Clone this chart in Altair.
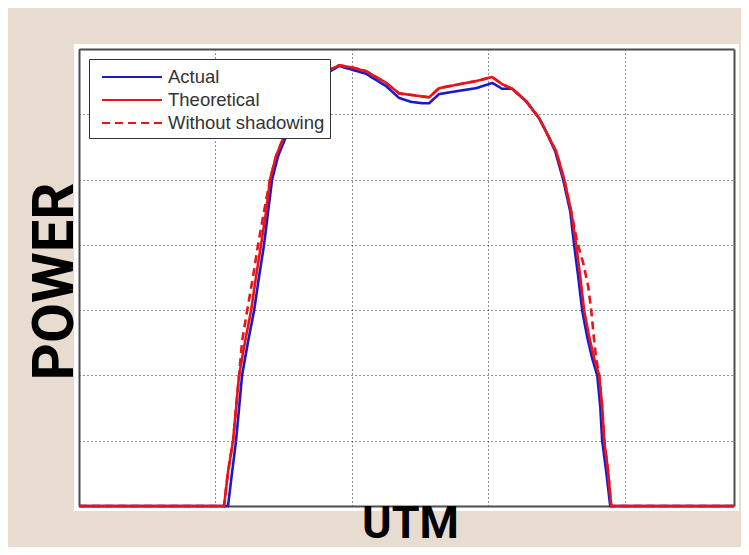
import altair as alt
import pandas as pd

series_names = ["Actual", "Theoretical", "Without shadowing"]
series_colors = ["#1a1acc", "#e8141c", "#e8141c"]

# Actual (blue)
actual_x = [0, 1.092, 1.122, 1.151, 1.195, 1.239, 1.283, 1.320, 1.356, 1.386, 1.415,
            1.459, 1.525, 1.613, 1.723, 1.818, 1.906, 1.957, 2.104, 2.251, 2.346,
            2.434, 2.515, 2.566, 2.639, 2.786, 2.911, 3.028, 3.101, 3.175, 3.277,
            3.372, 3.431, 3.490, 3.548, 3.600, 3.629, 3.658, 3.688, 3.724, 3.761,
            3.798, 3.820, 3.834, 3.864, 3.893, 4.8]
actual_y = [0, 0, 0.52, 1.0, 2.0, 2.52, 2.99, 3.52, 4.0, 4.51, 5.0,
            5.36, 5.70, 6.05, 6.39, 6.63, 6.74, 6.71, 6.62, 6.43, 6.25,
            6.19, 6.17, 6.17, 6.31, 6.36, 6.40, 6.48, 6.39, 6.39, 6.20,
            5.94, 5.70, 5.43, 5.00, 4.51, 3.99, 3.52, 2.99, 2.59, 2.26,
            2.0, 1.52, 1.0, 0.52, 0, 0]

# Theoretical (red solid)
theo_x = [0, 1.063, 1.092, 1.129, 1.173, 1.217, 1.261, 1.298, 1.334, 1.371, 1.400,
          1.444, 1.510, 1.598, 1.708, 1.804, 1.906, 1.994, 2.104, 2.251, 2.346,
          2.493, 2.566, 2.639, 2.786, 2.911, 3.028, 3.101, 3.175, 3.277, 3.372,
          3.431, 3.497, 3.556, 3.607, 3.644, 3.673, 3.702, 3.739, 3.776, 3.812,
          3.834, 3.849, 3.878, 3.900, 4.8]
theo_y = [0, 0, 0.52, 1.0, 2.0, 2.52, 2.99, 3.52, 4.0, 4.51, 5.0,
          5.36, 5.70, 6.05, 6.39, 6.65, 6.75, 6.72, 6.66, 6.48, 6.32,
          6.28, 6.26, 6.40, 6.46, 6.51, 6.57, 6.46, 6.39, 6.20, 5.94,
          5.70, 5.43, 5.00, 4.51, 3.99, 3.52, 2.99, 2.59, 2.26, 2.0,
          1.52, 1.0, 0.52, 0, 0]

# Without shadowing (red dashed)
noshade_x = [0, 1.063, 1.092, 1.129, 1.173, 1.195, 1.232, 1.276, 1.312, 1.356, 1.400,
             1.444, 1.510, 1.598, 1.708, 1.804, 1.906, 1.994, 2.104, 2.251, 2.346,
             2.493, 2.566, 2.639, 2.786, 2.911, 3.028, 3.101, 3.175, 3.277, 3.372,
             3.431, 3.497, 3.556, 3.607, 3.650, 3.695, 3.732, 3.754, 3.776, 3.790,
             3.812, 3.834, 3.849, 3.878, 3.900, 4.8]
noshade_y = [0, 0, 0.52, 1.0, 2.0, 2.52, 2.99, 3.52, 4.0, 4.51, 5.0,
             5.36, 5.70, 6.05, 6.39, 6.65, 6.75, 6.72, 6.66, 6.48, 6.32,
             6.28, 6.26, 6.40, 6.46, 6.51, 6.57, 6.46, 6.39, 6.20, 5.94,
             5.70, 5.43, 5.00, 4.51, 4.05, 3.72, 3.36, 2.99, 2.52, 2.26,
             2.0, 1.52, 1.0, 0.52, 0, 0]

x_ticks = [0, 1, 2, 3, 4]
y_ticks = [0, 1, 2, 3, 4, 5, 6, 7]

rows = []
for name, xs, ys in [("Actual", actual_x, actual_y),
                     ("Theoretical", theo_x, theo_y),
                     ("Without shadowing", noshade_x, noshade_y)]:
    for i, (a, b) in enumerate(zip(xs, ys)):
        rows.append({"series": name, "x": a, "y": b, "order": i})
df = pd.DataFrame(rows)

legend = alt.Legend(
    title=None, orient="none", legendX=10, legendY=10,
    symbolType="M-2.5,0H2.5", symbolSize=576, symbolStrokeWidth=2,
    labelFont="Liberation Sans", labelFontSize=18.5, labelColor="#333333",
    labelOffset=23, padding=5, symbolOffset=25, rowPadding=0,
    strokeColor="#333333", fillColor="white",
)

xscale = alt.Scale(domain=[0, 4.8], nice=False, zero=False)
yscale = alt.Scale(domain=[0, 7], nice=False, zero=False)

grid_kw = dict(labels=False, ticks=False, domainColor="#4d4d4d", domainWidth=2,
               grid=True, gridColor="#222222", gridDash=[1, 3], gridWidth=1)

lines = alt.Chart(df).mark_line(strokeWidth=2.6).encode(
    x=alt.X("x:Q", scale=xscale,
            axis=alt.Axis(values=x_ticks, title="UTM", titleFont="Roboto",
                          titleFontSize=45, titleFontWeight="bold", titleColor="black",
                          titleX=331, titleY=31, titleBaseline="alphabetic",
                          titleAlign="center", **grid_kw)),
    y=alt.Y("y:Q", scale=yscale,
            axis=alt.Axis(values=y_ticks, title="POWER", titleFont="Roboto",
                          titleFontSize=58, titleFontWeight="bold", titleColor="black",
                          titleAngle=270, titleX=-7, titleY=232,
                          titleBaseline="alphabetic", titleAlign="center", **grid_kw)),
    color=alt.Color("series:N", scale=alt.Scale(domain=series_names, range=series_colors),
                    legend=legend),
    strokeDash=alt.StrokeDash("series:N",
                              scale=alt.Scale(domain=series_names,
                                              range=[[1, 0], [1, 0], [8, 5]]),
                              legend=legend),
    order="order:Q",
)

box_kw = dict(labels=False, ticks=False, grid=False, title=None,
              domainColor="#4d4d4d", domainWidth=2)
box = alt.Chart(df).mark_line(opacity=0).encode(
    x=alt.X("x:Q", axis=alt.Axis(orient="top", **box_kw)),
    y=alt.Y("y:Q", axis=alt.Axis(orient="right", **box_kw)),
    detail="series:N",
)

chart = alt.layer(lines, box).resolve_axis(x="independent", y="independent").properties(
    width=655, height=457,
    background="#e8dcd0",
    padding={"left": 71, "top": 41, "right": 7, "bottom": 41},
    autosize=alt.AutoSizeParams(type="none"),
).configure_view(fill="white", stroke="white", strokeWidth=10)

chart.save("out.html", embed_options={"renderer": "svg", "actions": False})
